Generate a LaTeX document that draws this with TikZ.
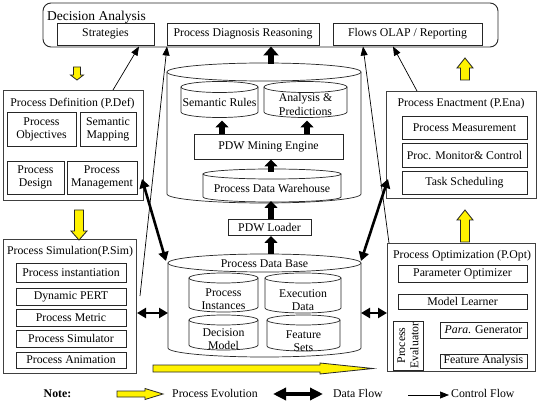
\documentclass[tikz,border=0pt]{standalone}
\usepackage{fontspec}
\setmainfont{Liberation Serif}
\usetikzlibrary{arrows.meta}
\tikzset{
 box/.style={draw=black!85, line width=0.7pt, fill=white, inner sep=0pt, align=center},
 panel/.style={draw=black!75, line width=0.9pt, fill=white, inner sep=0pt},
 lbl/.style={inner sep=0pt, align=center},
 blk/.style={line width=6pt, -{Triangle[length=7pt,width=13pt]}},
 blkbig/.style={line width=6.5pt, -{Triangle[length=9pt,width=15pt]}},
 dflow/.style={line width=2.6pt, {Triangle[length=9pt,width=10pt]}-{Triangle[length=9pt,width=10pt]}},
 dflownote/.style={line width=3.5pt, {Triangle[length=13pt,width=12pt]}-{Triangle[length=13pt,width=12pt]}},
 cflow/.style={line width=0.7pt, -{Triangle[length=9pt,width=7pt]}},
 yflow/.style={draw=black!85, line width=0.8pt, fill=yellow},
 cylline/.style={draw=black!85, line width=0.7pt, fill=white},
}
% #1 options, #2 name, #3 x1, #4 y1, #5 x2, #6 y2, #7 text
\newcommand\bx[7][]{\node[box,#1,minimum width={(#5-#3)*1pt},minimum height={(#6-#4)*1pt}] (#2) at ({(#3+#5)/2},{(#4+#6)/2}) {#7};}
% #1 name, #2 cx, #3 rx, #4 ytop, #5 ybot, #6 ry
\newcommand\cyl[6]{%
 \path[cylline] ({#2-#3},#4) -- ({#2-#3},#5) arc[start angle=180,end angle=360,x radius=#3pt,y radius=#6pt] -- ({#2+#3},#4);
 \path[cylline] (#2,#4) ellipse[x radius=#3pt,y radius=#6pt];
 \coordinate (#1) at (#2,{(#4+#5)/2});}
% #1 tail point, #2 angle, #3 length, #4 head length, #5 half body, #6 half head
\newcommand\yarr[6]{\begin{scope}[shift={#1},rotate=#2]
 \draw[yflow] (0,-#5) -- ({#3-#4},-#5) -- ({#3-#4},-#6) -- (#3,0) -- ({#3-#4},#6) -- ({#3-#4},#5) -- (0,#5) -- cycle;
 \end{scope}}
\begin{document}
\begin{tikzpicture}[x=1pt,y=-1pt,font=\fontsize{11.8}{13.2}\selectfont]
\useasboundingbox (0,0) rectangle (541,406);
\fill[white] (0,0) rectangle (541,406);

% Decision Analysis
\bx[rounded corners=8pt, line width=0.9pt]{da}{43}{3}{498}{47}{}
\node[lbl, anchor=base west, font=\fontsize{13.5}{15}\selectfont] (datitle) at (47,20.5) {Decision Analysis};
\bx{strat}{57}{23}{154}{45}{Strategies}
\bx{pdr}{167}{23}{319}{45}{Process Diagnosis Reasoning}
\bx{olap}{333}{23}{482}{45}{Flows OLAP / Reporting}

% Process Definition
\bx[panel]{pdef}{3}{90}{143}{200}{}
\node[lbl] (pdeft) at (72.5,104) {Process Definition (P.Def)};
\bx{pobj}{7}{112}{76}{146}{Process\\Objectives}
\bx{smap}{80}{112}{136}{146}{Semantic\\Mapping}
\bx{pdes}{7}{161}{64}{194}{Process\\Design}
\bx{pman}{67}{161}{137}{194}{Process\\Management}

% Process Simulation
\bx[panel]{psim}{3}{239}{136}{373}{}
\node[lbl] (psimt) at (70,252) {Process Simulation(P.Sim)};
\bx{pinst}{16}{263}{126}{282}{Process instantiation}
\bx{pert}{16}{288}{126}{305}{Dynamic PERT}
\bx{pmet}{16}{309}{126}{326}{Process Metric}
\bx{psimu}{16}{330}{126}{347}{Process Simulator}
\bx{panim}{16}{352}{126}{368}{Process Animation}

% Process Enactment
\bx[panel]{pena}{386}{91}{536}{198}{}
\node[lbl] (penat) at (461,104) {Process Enactment (P.Ena)};
\bx{pmeas}{402}{116}{527}{139}{Process Measurement}
\bx{pmon}{402}{143}{527}{167}{Proc. Monitor\& Control}
\bx{tsch}{402}{171}{527}{194}{Task Scheduling}

% Process Optimization
\bx[panel]{popt}{387}{243}{535}{371}{}
\node[lbl] (poptt) at (462,256) {Process Optimization (P.Opt)};
\bx{parop}{398}{265}{527}{282}{Parameter Optimizer}
\bx{mlearn}{398}{294}{527}{309}{Model Learner}
\bx{peval}{393}{321}{423}{370}{}
\node[lbl, rotate=90] (pevalt) at (peval) {Process\\Evaluator};
\bx{pgen}{440}{322}{527}{338}{\textit{Para.} Generator}
\bx{fana}{440}{354}{527}{368}{Feature Analysis}

% upper warehouse cylinder
\cyl{upcyl}{264}{97}{72}{194}{9}
\cyl{semr}{219.5}{38.5}{87}{112}{5.5}
\node[lbl] (semrt) at (219.5,102) {Semantic Rules};
\cyl{anap}{305.5}{41.5}{87}{112}{5.5}
\node[lbl] (anapt) at (305.5,104.5) {Analysis \&\\Predictions};
\bx{mine}{194}{134}{343}{159}{PDW Mining Engine}
\cyl{pdw}{272}{69}{174}{197}{5}
\node[lbl] (pdwt) at (272,188) {Process Data Warehouse};
\bx{loader}{228}{219}{311}{235}{PDW Loader}

% lower database cylinder
\cyl{lowcyl}{264.5}{96.5}{263}{348}{9}
\node[lbl] (pdbt) at (264.5,264) {Process Data Base};
\cyl{pinstc}{223.5}{34.5}{278}{307}{5}
\node[lbl] (pinstt) at (223.5,299.5) {Process\\Instances};
\cyl{execd}{303}{38}{278}{308}{5}
\node[lbl] (execdt) at (303,300.5) {Execution\\Data};
\cyl{decm}{223.5}{34.5}{320}{345}{5}
\node[lbl] (decmt) at (223.5,339) {Decision\\Model};
\cyl{feat}{303.5}{36.5}{320}{346}{5}
\node[lbl] (featt) at (303.5,341) {Feature\\Sets};

% yellow process-evolution arrows
\yarr{(77,67)}{-90}{13}{5}{3.5}{6.5}
\yarr{(79,210)}{-90}{30}{9}{4.5}{8}
\yarr{(465,242)}{90}{32}{10}{4.5}{8}
\yarr{(465,80)}{90}{22}{10}{4.5}{8}
\yarr{(153,368.5)}{0}{220}{53}{3.5}{5.5}

% black data arrows
\coordinate (u1) at (271,64);   \coordinate (u2) at (271,46.5);
\coordinate (m1) at (222,134);  \coordinate (m2) at (222,120.5);
\coordinate (m3) at (307,134);  \coordinate (m4) at (307,120.5);
\coordinate (w1) at (271,172);  \coordinate (w2) at (271,159.5);
\coordinate (l1) at (271,219);  \coordinate (l2) at (271,201);
\coordinate (b1) at (271,254);  \coordinate (b2) at (271,236);
\draw[blkbig] (u1) -- (u2);
\draw[blk] (m1) -- (m2);
\draw[blk] (m3) -- (m4);
\draw[blk] (w1) -- (w2);
\draw[blk] (l1) -- (l2);
\draw[blk] (b1) -- (b2);

\coordinate (dl1) at (142,179); \coordinate (dl2) at (166,261);
\coordinate (dr1) at (388,179); \coordinate (dr2) at (361,261);
\coordinate (sl1) at (137,313); \coordinate (sl2) at (168,313);
\coordinate (sr1) at (361,313); \coordinate (sr2) at (387,313);
\draw[dflow] (dl1) -- (dl2);
\draw[dflow] (dr1) -- (dr2);
\draw[dflow] (sl1) -- (sl2);
\draw[dflow] (sr1) -- (sr2);

% control flow
\coordinate (c1) at (113,90);  \coordinate (c1e) at (139,46.5);
\coordinate (c2) at (140,296); \coordinate (c2e) at (167,46.5);
\coordinate (c3) at (417,91);  \coordinate (c3e) at (393,46.5);
\coordinate (c4) at (389,243); \coordinate (c4e) at (363,46.5);
\draw[cflow] (c1) -- (c1e);
\draw[cflow] (c2) -- (c2e);
\draw[cflow] (c3) -- (c3e);
\draw[cflow] (c4) -- (c4e);

% legend
\node[lbl] (note) at (57.5,394) {\textbf{Note:}};
\yarr{(117,394)}{0}{46}{18}{3}{5.5}
\node[lbl, anchor=west] (pev) at (172,393) {Process Evolution};
\coordinate (n1) at (273,394); \coordinate (n2) at (323,394);
\draw[dflownote] (n1) -- (n2);
\node[lbl, anchor=west] (dfl) at (333,393) {Data Flow};
\coordinate (n3) at (408,395); \coordinate (n4) at (449,395);
\draw[cflow] (n3) -- (n4);
\node[lbl, anchor=west] (cfl) at (451,393) {Control Flow};
\end{tikzpicture}
\end{document}
